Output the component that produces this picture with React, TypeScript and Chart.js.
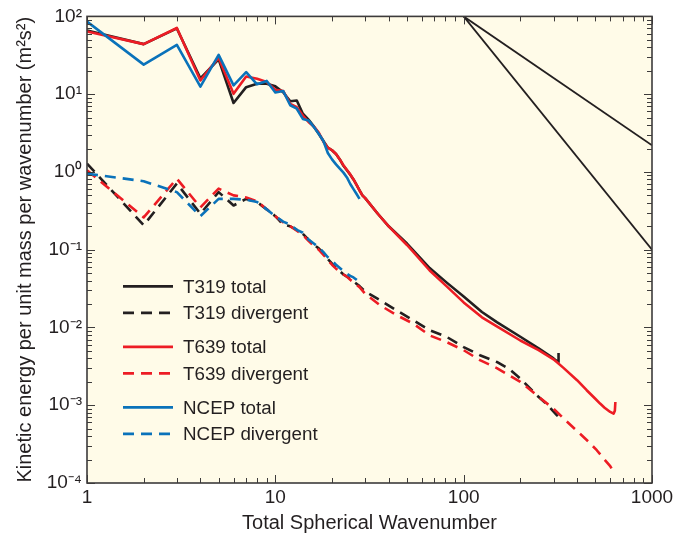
import { useEffect, useRef } from "react";
import { Chart, registerables } from "chart.js";

Chart.register(...registerables);

// ---------- data ----------
const t319TotalN = [1, 2, 3, 4, 5, 6, 7, 8, 9, 10, 11, 12, 13, 14, 15, 16, 17, 18, 19, 20, 21, 22, 23, 24, 25, 26, 27, 28, 29, 30, 35, 40, 50, 54, 66, 81, 100, 125, 150, 200, 250, 300, 317, 319];
const t319Total = [66, 44, 70, 16, 28, 7.7, 12.3, 13.6, 13.6, 12.6, 10.6, 8.1, 8.3, 5.6, 4.7, 3.85, 3.1, 2.5, 2.05, 1.9, 1.7, 1.45, 1.2, 1.05, 0.92, 0.8, 0.68, 0.58, 0.5, 0.46, 0.29, 0.2, 0.12, 0.098, 0.058, 0.038, 0.025, 0.0158, 0.0117, 0.0076, 0.0054, 0.004, 0.0036, 0.0047];

const t319DivN = [1, 2, 3, 4, 5, 6, 7, 8, 9, 10, 11, 12, 13, 14, 15, 16, 17, 18, 19, 20, 21, 22, 23, 24, 25, 26, 28, 30, 36, 44, 54, 66, 81, 100, 122, 150, 175, 200, 244, 280, 313, 319];
const t319Div = [1.28, 0.206, 0.71, 0.29, 0.55, 0.37, 0.45, 0.41, 0.33, 0.27, 0.21, 0.2, 0.18, 0.16, 0.135, 0.116, 0.104, 0.09, 0.076, 0.066, 0.058, 0.053, 0.048, 0.045, 0.042, 0.039, 0.034, 0.029, 0.0224, 0.0166, 0.0124, 0.0092, 0.0076, 0.0056, 0.0044, 0.0036, 0.0029, 0.0022, 0.00135, 0.001, 0.00074, 0.0008];

const t639TotalN = [1, 2, 3, 4, 5, 6, 7, 8, 9, 10, 11, 12, 13, 14, 15, 16, 17, 18, 19, 20, 21, 22, 23, 24, 25, 26, 27, 28, 29, 30, 35, 40, 50, 54, 66, 81, 100, 125, 150, 200, 250, 300, 340, 400, 450, 500, 530, 560, 600, 625, 635, 639];
const t639Total = [64, 44, 71, 15, 29.5, 10.1, 16.9, 15.8, 14.3, 11.4, 11, 7.5, 6.8, 5.3, 4.4, 3.85, 3.2, 2.45, 2.05, 1.9, 1.7, 1.45, 1.22, 1.06, 0.93, 0.8, 0.68, 0.58, 0.5, 0.46, 0.29, 0.2, 0.115, 0.094, 0.054, 0.034, 0.021, 0.0135, 0.0103, 0.0068, 0.0051, 0.0039, 0.003, 0.0021, 0.00156, 0.00121, 0.00105, 0.00093, 0.00082, 0.00078, 0.00085, 0.0011];

const t639DivN = [1, 2, 3, 4, 5, 6, 7, 8, 9, 10, 11, 12, 13, 14, 15, 16, 17, 18, 19, 20, 21, 22, 23, 24, 25, 26, 28, 30, 36, 44, 54, 66, 81, 100, 122, 150, 200, 244, 300, 350, 415, 460, 509, 560, 600, 624];
const t639Div = [1.05, 0.26, 0.82, 0.35, 0.61, 0.5, 0.47, 0.42, 0.33, 0.27, 0.225, 0.2, 0.175, 0.155, 0.13, 0.112, 0.1, 0.086, 0.074, 0.064, 0.057, 0.052, 0.048, 0.045, 0.041, 0.038, 0.033, 0.027, 0.0193, 0.0144, 0.0112, 0.0079, 0.0065, 0.0051, 0.0038, 0.003, 0.002, 0.00135, 0.0009, 0.00063, 0.00043, 0.00034, 0.000264, 0.0002, 0.000165, 0.000139];

const ncepN = [1, 2, 3, 4, 5, 6, 7, 8, 9, 10, 11, 12, 13, 14, 15, 16, 17, 18, 19, 20, 21, 22, 23, 24, 25, 26, 27, 28];
const ncepTotal = [86, 24, 43, 12.5, 32, 13, 19.2, 13.4, 14.8, 10.5, 11, 7.2, 6.5, 4.8, 4.6, 3.8, 3.1, 2.5, 1.75, 1.45, 1.25, 1.1, 0.98, 0.85, 0.7, 0.6, 0.52, 0.45];
const ncepDiv = [0.95, 0.76, 0.55, 0.27, 0.45, 0.45, 0.44, 0.41, 0.33, 0.27, 0.23, 0.21, 0.18, 0.165, 0.135, 0.12, 0.107, 0.093, 0.08, 0.072, 0.064, 0.058, 0.053, 0.049, 0.046, 0.044, 0.041, 0.038];

// reference slope lines (k^-5/3 and k^-3), endpoints
const refN = [100, 1000];
const refSlope53 = [100, 2.2];
const refSlope3 = [100, 0.1];

const seriesLabels = ["T319 total", "T319 divergent", "T639 total", "T639 divergent", "NCEP total", "NCEP divergent"];

const xTickValues = [1, 2, 3, 4, 5, 6, 7, 8, 9, 10, 20, 30, 40, 50, 60, 70, 80, 90, 100, 200, 300, 400, 500, 600, 700, 800, 900, 1000];
const xLabelValues = [1, 10, 100, 1000];
const xTickLabels = ["1", "10", "100", "1000"];

const yTickValues = [
  1e-4, 2e-4, 3e-4, 4e-4, 5e-4, 6e-4, 7e-4, 8e-4, 9e-4,
  1e-3, 2e-3, 3e-3, 4e-3, 5e-3, 6e-3, 7e-3, 8e-3, 9e-3,
  1e-2, 2e-2, 3e-2, 4e-2, 5e-2, 6e-2, 7e-2, 8e-2, 9e-2,
  1e-1, 2e-1, 3e-1, 4e-1, 5e-1, 6e-1, 7e-1, 8e-1, 9e-1,
  1, 2, 3, 4, 5, 6, 7, 8, 9,
  10, 20, 30, 40, 50, 60, 70, 80, 90, 100,
];
const yLabelValues = [1e-4, 1e-3, 1e-2, 1e-1, 1, 10, 100];
const yTickLabels = ["10\u207B\u2074", "10\u207B\u00B3", "10\u207B\u00B2", "10\u207B\u00B9", "10\u2070", "10\u00B9", "10\u00B2"];

// ---------- styling ----------
const FONT = '"Liberation Sans", Arial, Helvetica, sans-serif';
const INK = "#231f20";
const BLACK = "#231f20";
const RED = "#ed1c24";
const BLUE = "#0a72ba";
const CREAM = "#fffbe8";
const DASH = [11, 7];

const pts = (xs: number[], ys: number[]) => xs.map((x, i) => ({ x, y: ys[i] }));

const isPow10 = (v: number) => {
  const l = Math.log10(v);
  return Math.abs(l - Math.round(l)) < 1e-6;
};

const matchLabel = (v: number, vals: number[], labels: string[]) => {
  for (let i = 0; i < vals.length; i++) {
    if (Math.abs(Math.log10(v) - Math.log10(vals[i])) < 1e-6) return labels[i];
  }
  return "";
};

const backgroundPlugin = {
  id: "bg",
  beforeDraw(chart: any) {
    const { ctx, chartArea } = chart;
    ctx.save();
    ctx.fillStyle = "#ffffff";
    ctx.fillRect(0, 0, chart.width, chart.height);
    ctx.fillStyle = CREAM;
    ctx.fillRect(chartArea.left, chartArea.top, chartArea.right - chartArea.left, chartArea.bottom - chartArea.top);
    ctx.restore();
  },
};

const framePlugin = {
  id: "frame",
  afterDraw(chart: any) {
    const { ctx, chartArea, scales } = chart;
    const { left, right, top, bottom } = chartArea;
    ctx.save();
    ctx.strokeStyle = "#3d3b3b";
    ctx.lineWidth = 1;
    ctx.beginPath();
    for (const v of xTickValues) {
      const px = Math.round(scales.x.getPixelForValue(v)) + 0.5;
      const len = isPow10(v) ? 8 : 5;
      ctx.moveTo(px, bottom);
      ctx.lineTo(px, bottom - len);
      ctx.moveTo(px, top);
      ctx.lineTo(px, top + len);
    }
    for (const v of yTickValues) {
      const py = Math.round(scales.y.getPixelForValue(v)) + 0.5;
      const len = isPow10(v) ? 8 : 5;
      ctx.moveTo(left, py);
      ctx.lineTo(left + len, py);
      ctx.moveTo(right, py);
      ctx.lineTo(right - len, py);
    }
    ctx.stroke();
    ctx.lineWidth = 1.6;
    ctx.strokeRect(left, top, right - left, bottom - top);

    // legend
    const datasets = chart.data.datasets.filter((d: any) => seriesLabels.includes(d.label));
    ctx.font = `18.8px ${FONT}`;
    ctx.textBaseline = "middle";
    ctx.textAlign = "left";
    seriesLabels.forEach((label, i) => {
      const ds = datasets.find((d: any) => d.label === label);
      if (!ds) return;
      const g = Math.floor(i / 2);
      const k = i % 2;
      const y = top + 270 + g * 60.5 + k * 26.5;
      ctx.strokeStyle = ds.borderColor;
      ctx.lineWidth = 2.6;
      ctx.setLineDash(ds.borderDash || []);
      ctx.beginPath();
      ctx.moveTo(left + 36, y);
      ctx.lineTo(left + 86, y);
      ctx.stroke();
      ctx.setLineDash([]);
      ctx.fillStyle = INK;
      ctx.fillText(label, left + 96, y + 1);
    });
    ctx.restore();
  },
};

export default function App() {
  const ref = useRef<HTMLCanvasElement>(null);

  useEffect(() => {
    const canvas = ref.current;
    if (!canvas) return;
    const common = { pointRadius: 0, borderWidth: 2.6, tension: 0, fill: false, borderJoinStyle: "round" as const };
    const chart = new Chart(canvas, {
      type: "line",
      data: {
        datasets: [
          { label: "ref53", data: pts(refN, refSlope53), borderColor: BLACK, borderWidth: 1.8, pointRadius: 0, order: 5 },
          { label: "ref3", data: pts(refN, refSlope3), borderColor: BLACK, borderWidth: 1.8, pointRadius: 0, order: 5 },
          { label: seriesLabels[0], data: pts(t319TotalN, t319Total), borderColor: BLACK, ...common, order: 4 },
          { label: seriesLabels[1], data: pts(t319DivN, t319Div), borderColor: BLACK, borderDash: DASH, ...common, order: 4 },
          { label: seriesLabels[2], data: pts(t639TotalN, t639Total), borderColor: RED, ...common, order: 3 },
          { label: seriesLabels[3], data: pts(t639DivN, t639Div), borderColor: RED, borderDash: DASH, ...common, order: 3 },
          { label: seriesLabels[4], data: pts(ncepN, ncepTotal), borderColor: BLUE, ...common, order: 1 },
          { label: seriesLabels[5], data: pts(ncepN, ncepDiv), borderColor: BLUE, borderDash: DASH, ...common, order: 1 },
        ] as any,
      },
      options: {
        responsive: false,
        animation: false,
        layout: { padding: { top: 16, right: 31, left: 0, bottom: 0 } },
        plugins: { legend: { display: false }, tooltip: { enabled: false } },
        scales: {
          x: {
            type: "logarithmic",
            min: 1,
            max: 1000,
            afterBuildTicks: (s: any) => {
              s.ticks = xTickValues.map((v) => ({ value: v }));
            },
            afterFit: (s: any) => {
              s.height = 52;
            },
            grid: { display: false, drawTicks: false },
            border: { display: false },
            ticks: {
              autoSkip: false,
              maxRotation: 0,
              minRotation: 0,
              padding: 3,
              color: INK,
              font: { family: FONT, size: 19 },
              callback: (v: any) => matchLabel(Number(v), xLabelValues, xTickLabels),
            },
            title: {
              display: true,
              text: "Total Spherical Wavenumber",
              color: INK,
              font: { family: FONT, size: 20 },
              padding: { top: 0, bottom: 0 },
            },
          },
          y: {
            type: "logarithmic",
            min: 1e-4,
            max: 100,
            afterBuildTicks: (s: any) => {
              s.ticks = yTickValues.map((v) => ({ value: v }));
            },
            afterFit: (s: any) => {
              s.width = 87;
            },
            grid: { display: false, drawTicks: false },
            border: { display: false },
            ticks: {
              autoSkip: false,
              padding: 5,
              color: INK,
              font: { family: FONT, size: 19 },
              callback: (v: any) => matchLabel(Number(v), yLabelValues, yTickLabels),
            },
            title: {
              display: true,
              text: "Kinetic energy per unit mass per wavenumber (m\u00B2s\u00B2)",
              color: INK,
              font: { family: FONT, size: 20 },
              padding: { top: 13, bottom: 0 },
            },
          },
        },
      } as any,
      plugins: [backgroundPlugin, framePlugin],
    });
    return () => chart.destroy();
  }, []);

  return (
    <div style={{ position: "fixed", left: 0, top: 0, width: 683, height: 535, background: "#fff" }}>
      <canvas ref={ref} width={683} height={535} style={{ display: "block" }} />
    </div>
  );
}
